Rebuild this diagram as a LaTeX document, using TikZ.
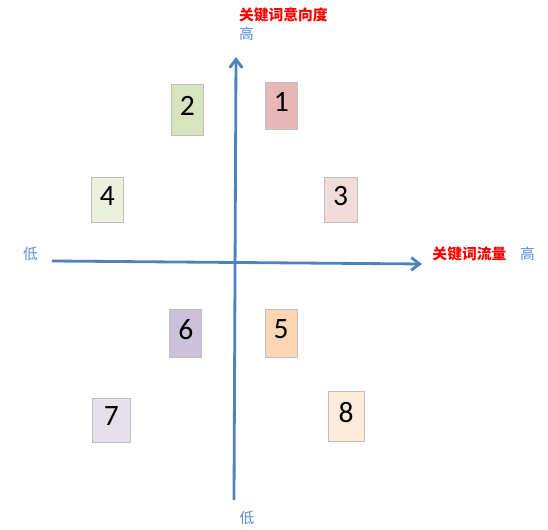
\documentclass[tikz,border=0pt]{standalone}
\usepackage{fontspec}
\setmainfont{Carlito}
\newfontfamily\cjk{Noto Sans CJK SC}
\usetikzlibrary{arrows.meta}
\definecolor{axisblue}{HTML}{4F81BD}
\definecolor{labelblue}{HTML}{558ED5}
\definecolor{boxline}{HTML}{BFBFBF}
\definecolor{cone}{HTML}{E6B9B8}
\definecolor{ctwo}{HTML}{D7E4BD}
\definecolor{cthree}{HTML}{F2DCDB}
\definecolor{cfour}{HTML}{EBF1DE}
\definecolor{cfive}{HTML}{FCD5B5}
\definecolor{csix}{HTML}{CCC1DA}
\definecolor{cseven}{HTML}{E6E0EC}
\definecolor{ceight}{HTML}{FDEADA}

\begin{document}
\begin{tikzpicture}[very thick, every node/.style={inner sep=0pt},
    axis/.style={axisblue, line width=2pt, -{Straight Barb[length=6pt,width=9pt]}},
    redlab/.style={font=\cjk\bfseries\fontsize{10.5}{12}\selectfont, text=red},
    bluelab/.style={font=\cjk\fontsize{10.5}{12}\selectfont, text=labelblue}]
\useasboundingbox (-5.875,-6.7) rectangle (7.825,6.55);

\coordinate (xl) at (-4.575,0.025);
\coordinate (xr) at (4.675,-0.05);
\coordinate (yb) at (-0.025,-5.95);
\coordinate (yt) at (0.025,5.125);
\draw[axis] (xl)--(xr);
\draw[axis] (yb)--(yt);

\node[redlab] (ytitle) at (1.21,6.175) {关键词意向度};
\node[bluelab] (yhigh) at (0.29,5.7) {高};
\node[bluelab] (ylow) at (0.3,-6.4) {低};
\node[bluelab] (xlow) at (-5.11,0.2) {低};
\node[redlab] (xtitle) at (5.86,0.2) {关键词流量};
\node[bluelab] (xhigh) at (7.31,0.2) {高};

\foreach \n/\x/\y/\w/\h/\c in {1/1.16/3.91/.78/1.18/cone, 2/-1.19/3.81/.78/1.28/ctwo,
    3/2.64/1.56/.83/1.13/cthree, 4/-3.19/1.56/.78/1.13/cfour,
    5/1.15/-1.78/.8/1.2/cfive, 6/-1.23/-1.78/.8/1.2/csix,
    7/-3.09/-3.95/.93/1.1/cseven, 8/2.78/-3.86/.9/1.23/ceight}
{
    \node[draw=boxline, fill=\c, line width=.7pt, minimum width=\w cm, minimum height=\h cm] (box\n) at (\x,\y) {};
    \node[font=\fontsize{21}{21}\selectfont] (num\n) at ([yshift=.1cm]box\n.center) {\n};
}

\end{tikzpicture}
\end{document}
